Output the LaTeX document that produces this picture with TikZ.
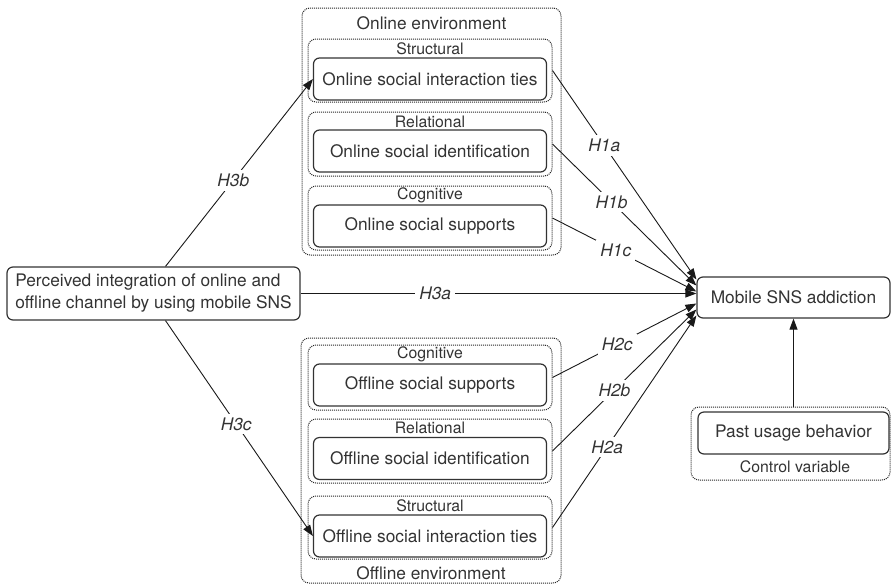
\documentclass[tikz,border=0pt]{standalone}
\usepackage{fontspec}
\setmainfont{TeX Gyre Heros}
\usetikzlibrary{arrows.meta}
\definecolor{inkgray}{gray}{0.2}

\begin{document}
\begin{tikzpicture}[x=1pt, y=-1pt,
    every node/.style={text=inkgray, font=\fontsize{17.3}{22}\selectfont},
    box/.style={draw=inkgray, line width=1.2pt, rounded corners=6pt, minimum width=233pt, minimum height=42pt, inner sep=0pt},
    grp/.style={draw=black!85, line width=1pt, dash pattern=on 1pt off 1pt, rounded corners=8pt, inner sep=0pt},
    sublbl/.style={font=\fontsize{15.8}{18}\selectfont},
    hyp/.style={fill=white, inner sep=4pt, font=\fontsize{17.3}{20}\selectfont\itshape},
    arr/.style={-{Triangle[length=11pt,width=8pt]}, line width=0.9pt, draw=black!90}]
            \useasboundingbox (0,0) rectangle (891,584);

            % Online environment
            \node[grp, minimum width=259pt, minimum height=247pt] (onl) at (431.5,131.5) {};
            \node (onlt) at (431.5,23) {Online environment};

            \node[grp, minimum width=244pt, minimum height=63pt] (s1) at (430,70.5) {};
            \node[sublbl] (s1t) at (430,49) {Structural};
            \node[box] (oit) at (430,79) {Online social interaction ties};

            \node[grp, minimum width=244pt, minimum height=64pt] (s2) at (430,144) {};
            \node[sublbl] (s2t) at (430,122) {Relational};
            \node[box] (osi) at (430,151) {Online social identification};

            \node[grp, minimum width=244pt, minimum height=64pt] (s3) at (430,218) {};
            \node[sublbl] (s3t) at (430,195) {Cognitive};
            \node[box] (oss) at (430,226) {Online social supports};

            % Offline environment
            \node[grp, minimum width=260pt, minimum height=245pt] (off) at (431,460.5) {};
            \node (offt) at (431,573) {Offline environment};

            \node[grp, minimum width=244pt, minimum height=65pt] (o1) at (430,377.5) {};
            \node[sublbl] (o1t) at (430,354) {Cognitive};
            \node[box] (fss) at (430,385) {Offline social supports};

            \node[grp, minimum width=244pt, minimum height=64pt] (o2) at (430,451) {};
            \node[sublbl] (o2t) at (430,428) {Relational};
            \node[box] (fsi) at (430,458.5) {Offline social identification};

            \node[grp, minimum width=244pt, minimum height=63pt] (o3) at (430,527.5) {};
            \node[sublbl] (o3t) at (430,506) {Structural};
            \node[box] (fit) at (430,536) {Offline social interaction ties};

            % Integration, addiction and control
            \node[box, minimum width=293pt, minimum height=53pt, align=left] (lft) at (153.5,293.5)
                {Perceived integration of online and\\offline channel by using mobile SNS};
            \node[box, minimum width=193pt, minimum height=41pt] (mob) at (793.5,297.5) {Mobile SNS addiction};
            \node[grp, minimum width=199pt, minimum height=73pt] (ctl) at (790.5,443.5) {};
            \node[box, minimum width=191pt] (pst) at (793.5,433) {Past usage behavior};
            \node[sublbl] (ctlt) at (795,467) {Control variable};

            % Draw the H3 paths
            \draw[arr] ([xshift=12pt]lft.north) -- node[hyp, pos=0.46] (h3b) {H3b} (oit.west);
            \draw[arr] (lft.east) -- node[hyp, pos=0.34] (h3a) {H3a} (lft.east -| mob.west);
            \draw[arr] ([xshift=12pt]lft.south) -- node[hyp, pos=0.48] (h3c) {H3c} (fit.west);

            % Draw the H1 and H2 paths
            \draw[arr] (s1.east) -- node[hyp, pos=0.36] (h1a) {H1a} ([yshift=18pt]mob.west);
            \draw[arr] (s2.east) -- node[hyp, pos=0.41] (h1b) {H1b} ([yshift=12pt]mob.west);
            \draw[arr] (s3.east) -- node[hyp, pos=0.44] (h1c) {H1c} ([yshift=6pt]mob.west);
            \draw[arr] (o1.east) -- node[hyp, pos=0.45] (h2c) {H2c} ([yshift=-6pt]mob.west);
            \draw[arr] (o2.east) -- node[hyp, pos=0.43] (h2b) {H2b} ([yshift=-12pt]mob.west);
            \draw[arr] (o3.east) -- node[hyp, pos=0.38] (h2a) {H2a} ([yshift=-18pt]mob.west);

            \draw[arr] (ctl.north -| pst) -- (mob.south -| pst);
        \end{tikzpicture}
\end{document}
